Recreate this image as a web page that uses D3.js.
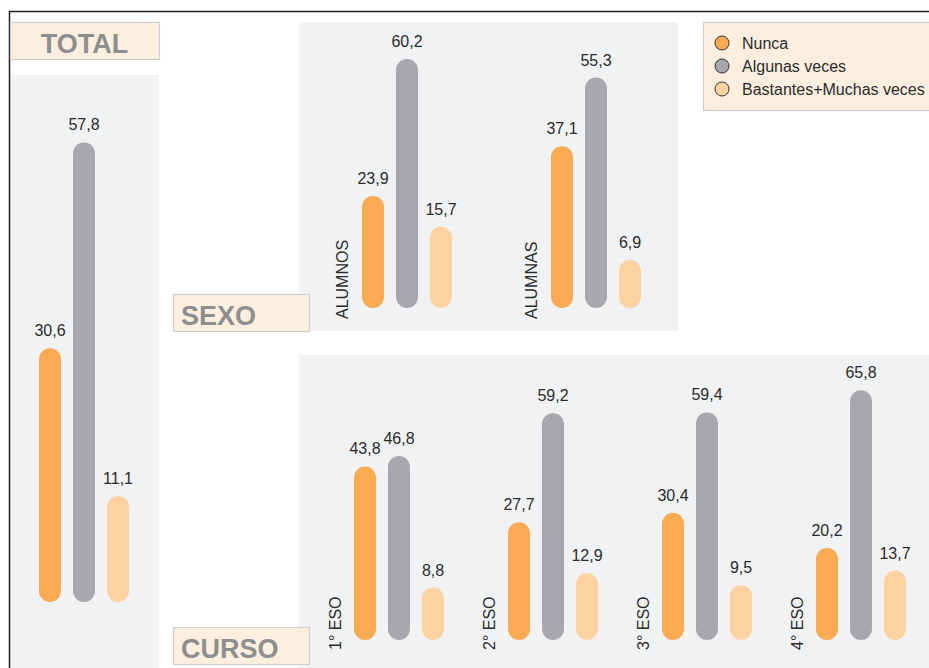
<!DOCTYPE html>
<html>
<head>
<meta charset="utf-8">
<script src="https://cdn.jsdelivr.net/npm/d3@7/dist/d3.min.js"></script>
<style>
  body { margin: 0; background: #fff; }
  text { font-family: "Liberation Sans", Arial, sans-serif; }
</style>
</head>
<body>
<svg id="chart"></svg>
<script>
var w = 929;
var h = 668;

// datos
var series = ["Nunca", "Algunas veces", "Bastantes+Muchas veces"];
var colors = ["#f9aa52", "#a7a8ab", "#fdd1a0"];

var totalValues = [30.6, 57.8, 11.1];

var sexoCats = ["ALUMNOS", "ALUMNAS"];
var sexoNunca = [23.9, 37.1];
var sexoAlgunas = [60.2, 55.3];
var sexoBastantes = [15.7, 6.9];

var cursoCats = ["1° ESO", "2° ESO", "3° ESO", "4° ESO"];
var cursoNunca = [43.8, 27.7, 30.4, 20.2];
var cursoAlgunas = [46.8, 59.2, 59.4, 65.8];
var cursoBastantes = [8.8, 12.9, 9.5, 13.7];

var fmt = function(v) { return d3.format(".1f")(v).replace(".", ","); };

var svg = d3.select("#chart")
  .attr("width", w)
  .attr("height", h)

var r = 11;

// paneles grises
svg.append("rect").attr("x", 10).attr("y", 75).attr("width", 149).attr("height", 600).attr("fill", "#f1f2f4")
svg.append("rect").attr("x", 299).attr("y", 22).attr("width", 379).attr("height", 309).attr("fill", "#f1f2f4")
svg.append("rect").attr("x", 299).attr("y", 355).attr("width", 640).attr("height", 320).attr("fill", "#f1f2f4")

// marco
svg.append("path")
  .attr("d", "M9.5," + h + "V11.5H" + w)
  .attr("fill", "none")
  .attr("stroke", "#222")
  .attr("stroke-width", 1.5)

function titleBox(x, y, bwid, txt, tx) {
  svg.append("rect")
    .attr("x", x + 0.5).attr("y", y + 0.5)
    .attr("width", bwid).attr("height", 37)
    .attr("fill", "#fdefdf")
    .attr("stroke", "#cfcfcf")
    .attr("stroke-width", 1.2)
  svg.append("text")
    .attr("x", tx).attr("y", y + 31)
    .attr("text-anchor", tx === x + bwid / 2 ? "middle" : "start")
    .attr("font-size", 27)
    .attr("font-weight", "bold")
    .attr("fill", "#8e8e8e")
    .text(txt)
}

function drawGroup(g, x0, vals, y) {
  var xb = d3.scaleBand().domain(series).range([x0, x0 + 90]).paddingInner(0.353).paddingOuter(0);
  series.forEach(function(s, i) {
    var v = vals[i];
    g.append("rect")
      .attr("x", xb(s))
      .attr("y", y(v) - r)
      .attr("width", xb.bandwidth())
      .attr("height", y(0) - y(v) + 2 * r)
      .attr("rx", r).attr("ry", r)
      .attr("fill", colors[i])
    g.append("text")
      .attr("x", xb(s) + xb.bandwidth() / 2)
      .attr("y", y(v) - r - 12)
      .attr("text-anchor", "middle")
      .attr("font-size", 16)
      .attr("fill", "#2b2b2b")
      .text(fmt(v))
  });
}

function catLabel(x, y, txt) {
  svg.append("text")
    .attr("transform", "translate(" + x + "," + y + ") rotate(-90)")
    .attr("font-size", 16)
    .attr("fill", "#2b2b2b")
    .text(txt)
}

// TOTAL
titleBox(10, 22, 149, "TOTAL", 84.5)
var yTotal = d3.scaleLinear().domain([0, 60]).range([591, 591 - 60 * 7.57]);
drawGroup(svg.append("g"), 39, totalValues, yTotal);

// SEXO
var ySexo = d3.scaleLinear().domain([0, 60]).range([297, 297 - 60 * 3.77]);
var xSexo = d3.scalePoint().domain(sexoCats).range([362, 551]);
sexoCats.forEach(function(c, i) {
  drawGroup(svg.append("g"), xSexo(c), [sexoNunca[i], sexoAlgunas[i], sexoBastantes[i]], ySexo);
  catLabel(xSexo(c) - 14, 319, c);
});
titleBox(173, 294, 136, "SEXO", 181)

// CURSO
var yCurso = d3.scaleLinear().domain([0, 60]).range([629, 629 - 60 * 3.46]);
var xCurso = d3.scalePoint().domain(cursoCats).range([354, 816]);
cursoCats.forEach(function(c, i) {
  drawGroup(svg.append("g"), xCurso(c), [cursoNunca[i], cursoAlgunas[i], cursoBastantes[i]], yCurso);
  catLabel(xCurso(c) - 13, 650, c);
});
titleBox(173, 627, 136, "CURSO", 181)

// leyenda
svg.append("rect")
  .attr("x", 703.5).attr("y", 22.5)
  .attr("width", 240).attr("height", 88)
  .attr("fill", "#fdefdf")
  .attr("stroke", "#cfcfcf")
  .attr("stroke-width", 1.2)

var leg = svg.selectAll(".leg")
  .data(series)
  .enter()
  .append("g")
  .attr("class", "leg")
  .attr("transform", function(d, i) { return "translate(722," + (43 + i * 23) + ")"; })

leg.append("circle")
  .attr("r", 7)
  .attr("fill", function(d, i) { return colors[i]; })
  .attr("stroke", "#333")
  .attr("stroke-width", 1)

leg.append("text")
  .attr("x", 20)
  .attr("y", 5.5)
  .attr("font-size", 16)
  .attr("fill", "#2b2b2b")
  .text(function(d) { return d; })
</script>
</body>
</html>
